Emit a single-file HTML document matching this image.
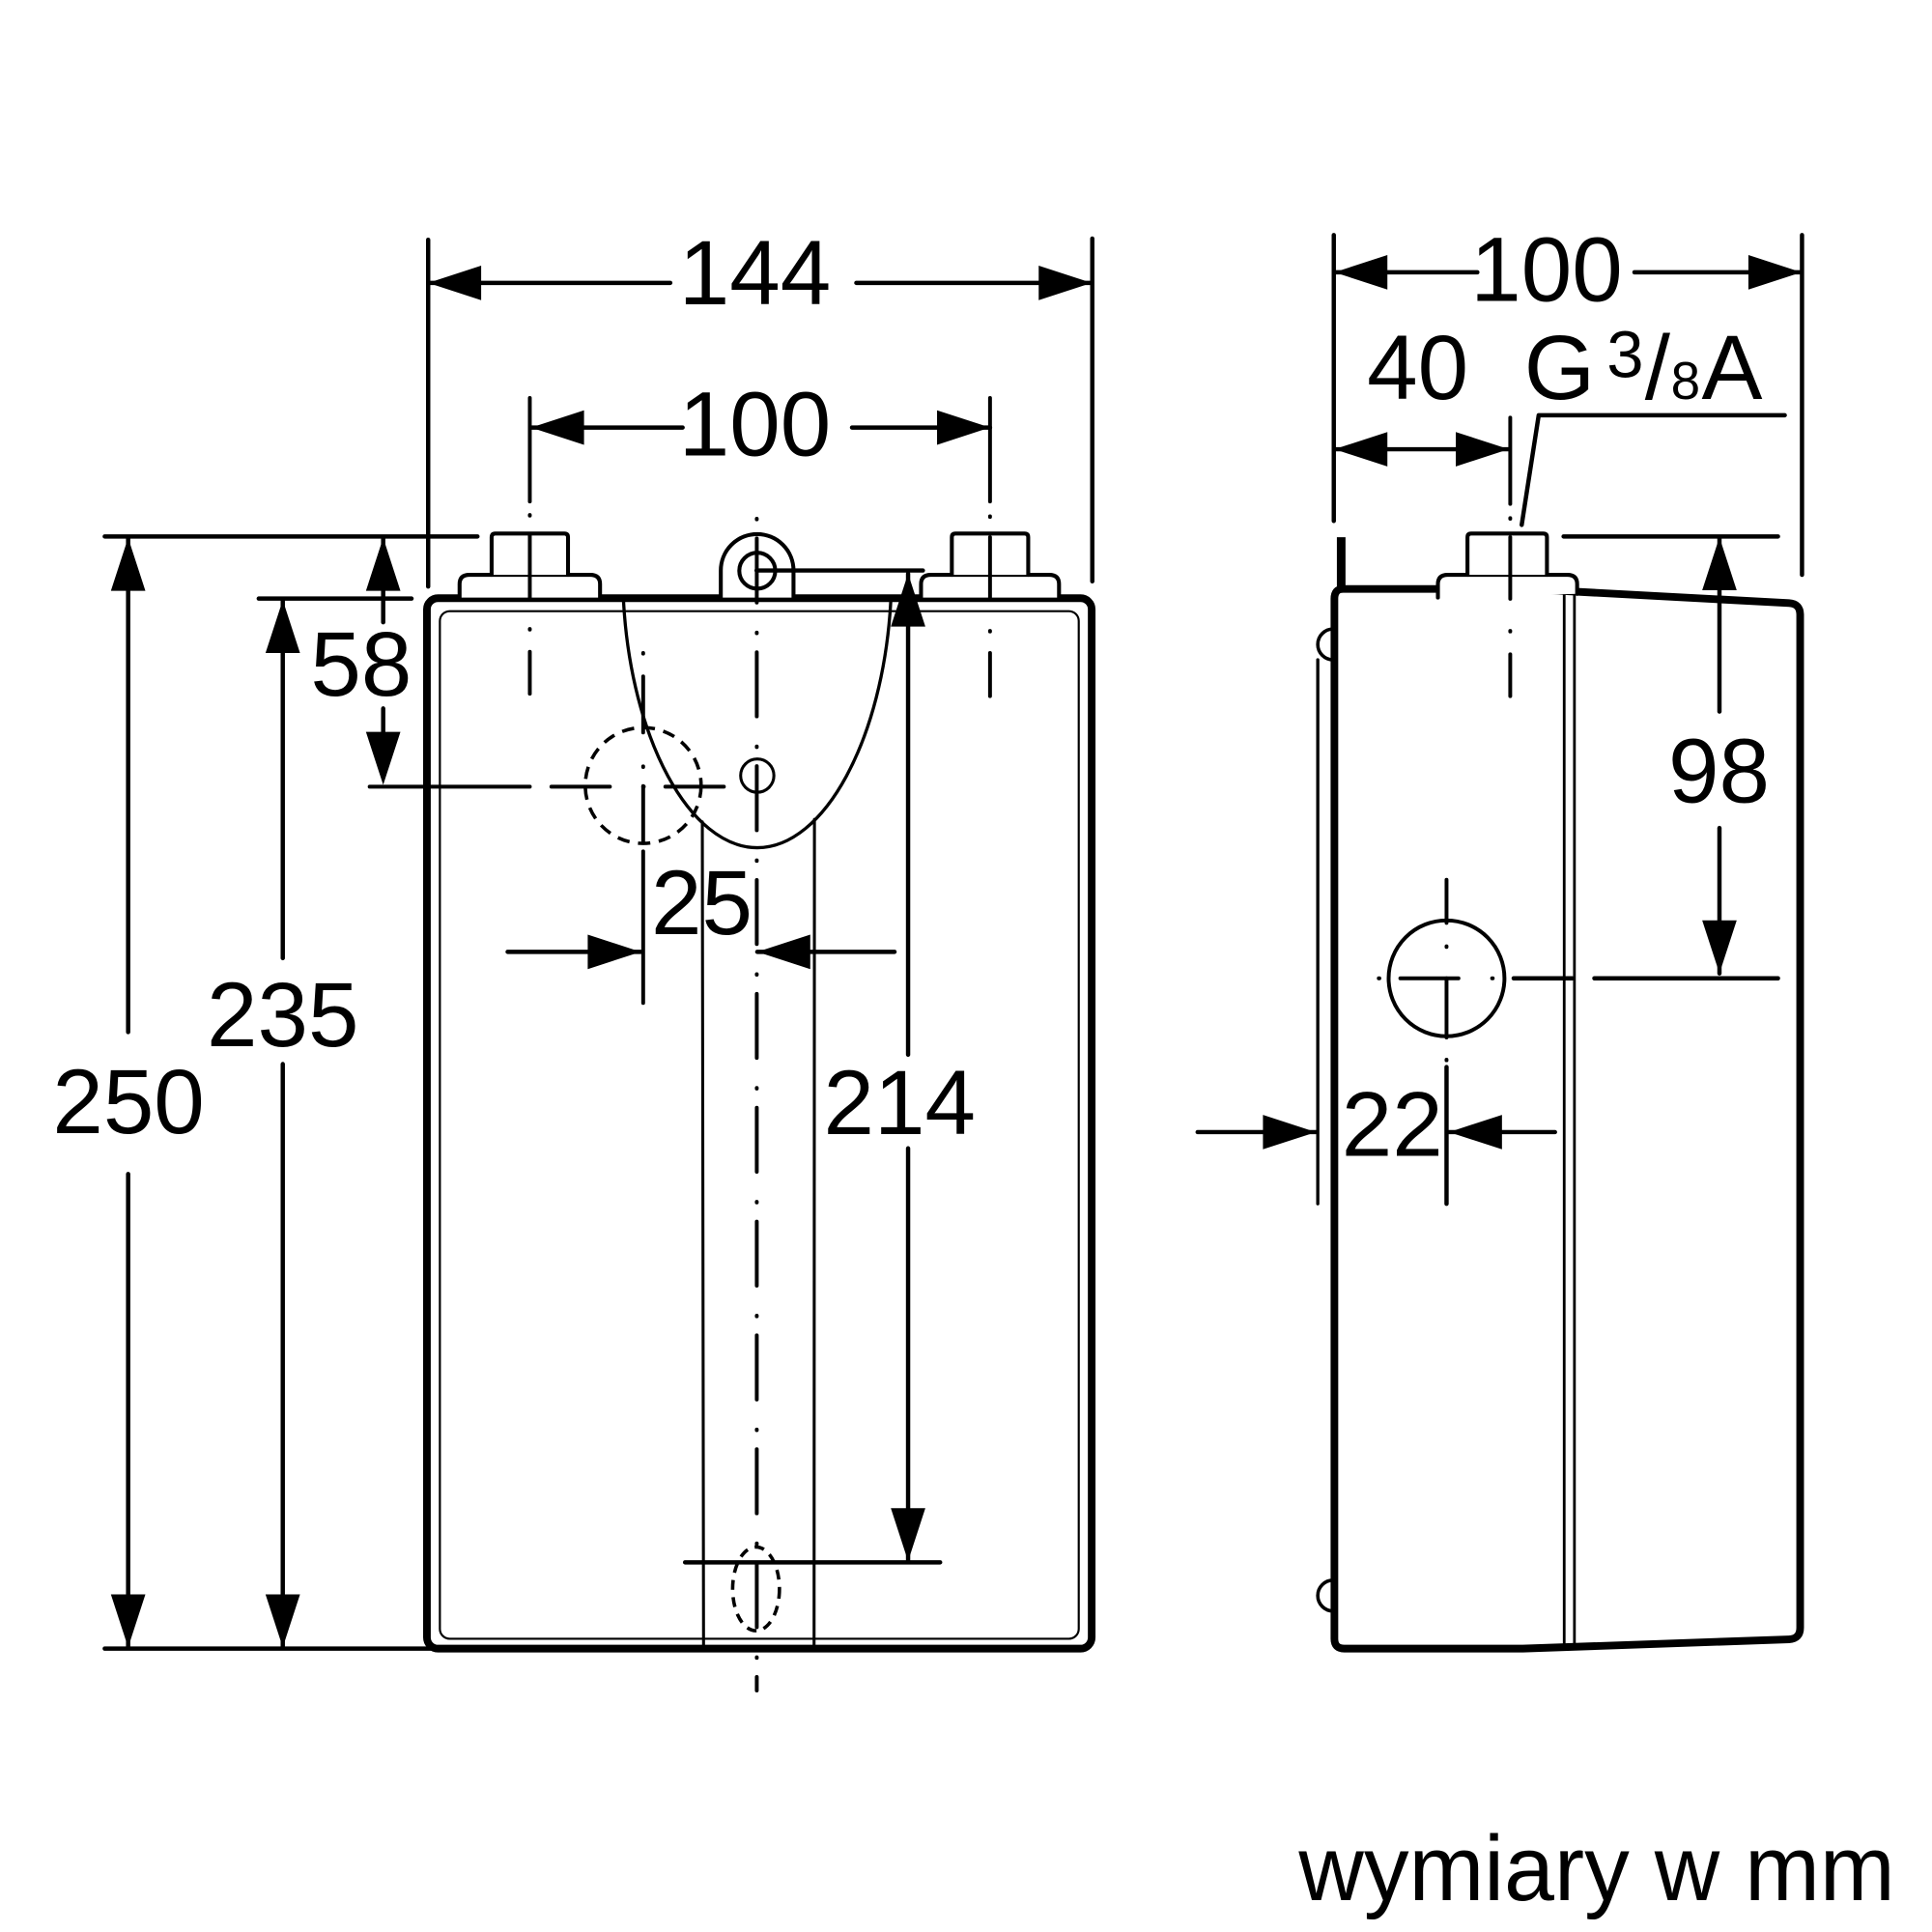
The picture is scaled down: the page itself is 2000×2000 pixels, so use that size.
<!DOCTYPE html>
<html><head><meta charset="utf-8"><style>
html,body{margin:0;padding:0;background:#fff}
svg{display:block}
text{font-family:"Liberation Sans",Arial,sans-serif;fill:#000}
</style></head><body>
<svg xmlns="http://www.w3.org/2000/svg" width="2000" height="2000" viewBox="0 0 1568 1568">
<rect x="0" y="0" width="1568" height="1568" fill="#fff"/>

<!-- ===== FRONT VIEW ===== -->
<g fill="none" stroke="#000" stroke-linecap="round" stroke-linejoin="round">
  <!-- tank -->
  <rect x="346.5" y="485.5" width="539.5" height="852.5" rx="9" stroke-width="6.2"/>
  <rect x="357" y="496" width="518.5" height="834" rx="8" stroke-width="1.7"/>
  <!-- connectors -->
  <g stroke-width="3.2" fill="#fff">
    <path d="M373,485 V474 Q373,466.5 381,466.5 H479 Q487,466.5 487,474 V485"/>
    <path d="M399,466.5 V436 Q399,433 402,433 H458 Q461,433 461,436 V466.5"/>
    <path d="M747.5,485 V474 Q747.5,466.5 755.5,466.5 H851.5 Q859.5,466.5 859.5,474 V485"/>
    <path d="M772.5,466.5 V436 Q772.5,433 775.5,433 H831.5 Q834.5,433 834.5,436 V466.5"/>
    <!-- lug -->
    <path d="M585,485 V463 A29.5,29.5 0 0 1 644,463 V485"/>
  </g>
  <circle cx="614.6" cy="463.2" r="14.6" stroke-width="3.2"/>
  <!-- parabola -->
  <path d="M506,487 C512,600 560,688 614.6,688 C669,688 717,600 723,487" stroke-width="2.6"/>
  <!-- thin verticals -->
  <line x1="570" y1="667" x2="571" y2="1337" stroke-width="2.4"/>
  <line x1="661" y1="665" x2="660.7" y2="1337" stroke-width="2.4"/>
  <!-- dashed circle -->
  <circle cx="522" cy="637.5" r="47" stroke-width="2.8" stroke-dasharray="10 7" stroke-linecap="butt"/>
  <!-- keyhole -->
  <circle cx="614.6" cy="629.5" r="13.5" stroke-width="2.4"/>
  <!-- drain -->
  <ellipse cx="613.6" cy="1289.5" rx="19" ry="34" stroke-width="2.8" stroke-dasharray="8 6" stroke-linecap="butt"/>

  <!-- center line -->
  <line x1="614.2" y1="421" x2="614.2" y2="1372" stroke-width="3.1" stroke-dasharray="0.5 15.5 52 24.4"/>
  <!-- connector center lines -->
  <g stroke-width="3.1">
    <line x1="430" y1="323" x2="430" y2="407"/>
    <line x1="430" y1="418" x2="430" y2="418.5"/>
    <line x1="430" y1="434" x2="430" y2="485"/>
    <line x1="430" y1="510.5" x2="430" y2="511"/>
    <line x1="430" y1="529" x2="430" y2="563"/>
    <line x1="803.5" y1="323" x2="803.5" y2="407"/>
    <line x1="803.5" y1="419" x2="803.5" y2="419.5"/>
    <line x1="803.5" y1="436" x2="803.5" y2="485"/>
    <line x1="803.5" y1="512" x2="803.5" y2="512.5"/>
    <line x1="803.5" y1="530" x2="803.5" y2="565"/>
  </g>
  <!-- circle center lines -->
  <g stroke-width="3.1">
    <line x1="300" y1="638.5" x2="430" y2="638.5"/>
    <line x1="447.5" y1="638.5" x2="495" y2="638.5"/>
    <line x1="522" y1="638.5" x2="522.5" y2="638.5"/>
    <line x1="540" y1="638.5" x2="587.5" y2="638.5"/>
    <line x1="522" y1="530" x2="522" y2="530.5"/>
    <line x1="522" y1="549" x2="522" y2="594.5"/>
    <line x1="522" y1="622" x2="522" y2="622.5"/>
    <line x1="522" y1="638" x2="522" y2="683"/>
    <line x1="522" y1="691" x2="522" y2="814"/>
  </g>

  <!-- dimension & extension lines -->
  <g stroke-width="3.5">
    <!-- 144 -->
    <line x1="347.5" y1="194.6" x2="347.5" y2="476"/>
    <line x1="886.5" y1="193.6" x2="886.5" y2="471.8"/>
    <line x1="347.5" y1="229.6" x2="544" y2="229.6"/>
    <line x1="695" y1="229.6" x2="886" y2="229.6"/>
    <!-- 100 front -->
    <line x1="431" y1="347" x2="554" y2="347"/>
    <line x1="691.5" y1="347" x2="803.5" y2="347"/>
    <!-- horizontals -->
    <line x1="85" y1="435.4" x2="387.5" y2="435.4"/>
    <line x1="210" y1="485.8" x2="334" y2="485.8"/>
    <line x1="85" y1="1338" x2="350" y2="1338"/>
    <line x1="614" y1="463" x2="749" y2="463"/>
    <line x1="556" y1="1268" x2="763" y2="1268"/>
    <!-- 250 -->
    <line x1="104" y1="436.5" x2="104" y2="837.6"/>
    <line x1="104" y1="952.8" x2="104" y2="1337"/>
    <!-- 235 -->
    <line x1="229.5" y1="487" x2="229.5" y2="777.6"/>
    <line x1="229.5" y1="863.6" x2="229.5" y2="1337"/>
    <!-- 58 -->
    <line x1="311" y1="436.5" x2="311" y2="505"/>
    <line x1="311" y1="575" x2="311" y2="600"/>
    <!-- 25 -->
    <line x1="412" y1="772.5" x2="520" y2="772.5"/>
    <line x1="614.6" y1="772.5" x2="726" y2="772.5"/>
    <!-- 214 -->
    <line x1="737" y1="465.5" x2="737" y2="856"/>
    <line x1="737" y1="932" x2="737" y2="1267"/>
  </g>
</g>

<!-- arrowheads front -->
<g fill="#000" stroke="none">
  <polygon points="347.5,229.6 390.5,215.6 390.5,243.6"/>
  <polygon points="886,229.6 843,215.6 843,243.6"/>
  <polygon points="431,347 474,333 474,361"/>
  <polygon points="803.5,347 760.5,333 760.5,361"/>
  <polygon points="104,436.5 90,479.5 118,479.5"/>
  <polygon points="104,1337 90,1294 118,1294"/>
  <polygon points="229.5,487 215.5,530 243.5,530"/>
  <polygon points="229.5,1337 215.5,1294 243.5,1294"/>
  <polygon points="311,436.5 297,479.5 325,479.5"/>
  <polygon points="311,637 297,594 325,594"/>
  <polygon points="520,772.5 477,758.5 477,786.5"/>
  <polygon points="614.6,772.5 657.6,758.5 657.6,786.5"/>
  <polygon points="737,465.5 723,508.5 751,508.5"/>
  <polygon points="737,1267 723,1224 751,1224"/>
</g>

<!-- ===== SIDE VIEW ===== -->
<g fill="none" stroke="#000" stroke-linecap="round" stroke-linejoin="round">
  <line x1="1088.5" y1="436" x2="1088.5" y2="478" stroke-width="7" stroke-linecap="butt"/>
  <path d="M1088.5,478 H1238 L1452,489.5 Q1461,490 1461,499 V1321 Q1461,1330 1452,1330.5 L1236,1338 H1091 Q1083,1338 1083,1330 V486 Q1083,478 1090,478" stroke-width="6.2"/>
  <line x1="1269.5" y1="480" x2="1269.5" y2="1337" stroke-width="2.2"/>
  <line x1="1277.8" y1="480" x2="1277.8" y2="1337" stroke-width="2.2"/>
  <g stroke-width="3.2" fill="#fff">
    <path d="M1167,485 V474 Q1167,466.5 1175,466.5 H1272 Q1280,466.5 1280,474 V482"/>
    <path d="M1191,466.5 V436 Q1191,433 1194,433 H1252.5 Q1255.5,433 1255.5,436 V466.5"/>
  </g>
  <path d="M1082,510.5 A12.5,12.5 0 0 0 1082,535.5" stroke-width="2.8"/>
  <path d="M1082,1282.5 A12.5,12.5 0 0 0 1082,1307.5" stroke-width="2.8"/>
  <circle cx="1174" cy="794" r="47" stroke-width="3.1"/>

  <g stroke-width="3.1">
    <!-- connector center line -->
    <line x1="1225.7" y1="339" x2="1225.7" y2="409"/>
    <line x1="1225.7" y1="420.5" x2="1225.7" y2="421"/>
    <line x1="1225.7" y1="436" x2="1225.7" y2="486"/>
    <line x1="1225.7" y1="512" x2="1225.7" y2="512.5"/>
    <line x1="1225.7" y1="531" x2="1225.7" y2="565"/>
    <!-- circle crosshair -->
    <line x1="1136.5" y1="794" x2="1183.7" y2="794"/>
    <line x1="1174" y1="794" x2="1174" y2="842"/>
    <line x1="1174" y1="714" x2="1174" y2="749"/>
    <line x1="1119" y1="794" x2="1119.5" y2="794"/>
    <line x1="1211" y1="794" x2="1211.5" y2="794"/>
    <line x1="1174" y1="768" x2="1174" y2="768.5"/>
    <line x1="1174" y1="860" x2="1174" y2="860.5"/>
  </g>

  <g stroke-width="3.5">
    <!-- 100 side -->
    <line x1="1082.5" y1="190.8" x2="1082.5" y2="422.8"/>
    <line x1="1462.5" y1="190.8" x2="1462.5" y2="466.5"/>
    <line x1="1083" y1="221" x2="1199" y2="221"/>
    <line x1="1326.5" y1="221" x2="1462" y2="221"/>
    <!-- 40 -->
    <line x1="1083" y1="364.6" x2="1224.5" y2="364.6"/>
    <!-- leader -->
    <polyline points="1235,426 1248.8,337 1448.5,337"/>
    <!-- 98 -->
    <line x1="1269" y1="435.4" x2="1443" y2="435.4"/>
    <line x1="1228.5" y1="794" x2="1276" y2="794"/>
    <line x1="1294" y1="794" x2="1443" y2="794"/>
    <line x1="1395.5" y1="436" x2="1395.5" y2="577.5"/>
    <line x1="1395.5" y1="672" x2="1395.5" y2="790"/>
    <!-- 22 -->
    <line x1="1174" y1="866" x2="1174" y2="977"/>
    <line x1="972" y1="918.8" x2="1068" y2="918.8"/>
    <line x1="1176" y1="918.8" x2="1262" y2="918.8"/>
  </g>
  <line x1="1069.5" y1="535.5" x2="1069.5" y2="977" stroke-width="2.6"/>
</g>

<!-- arrowheads side -->
<g fill="#000" stroke="none">
  <polygon points="1083,221 1126,207 1126,235"/>
  <polygon points="1462,221 1419,207 1419,235"/>
  <polygon points="1083,364.6 1126,350.6 1126,378.6"/>
  <polygon points="1224.5,364.6 1181.5,350.6 1181.5,378.6"/>
  <polygon points="1395.5,436 1381.5,479 1409.5,479"/>
  <polygon points="1395.5,790 1381.5,747 1409.5,747"/>
  <polygon points="1068,918.8 1025,904.8 1025,932.8"/>
  <polygon points="1176,918.8 1219,904.8 1219,932.8"/>
</g>

<!-- ===== TEXT ===== -->
<g font-size="74">
  <text x="551" y="247">144</text>
  <text x="551" y="369.6">100</text>
  <text x="1193.5" y="244.3">100</text>
  <text x="1109.5" y="324">40</text>
  <text x="252" y="564.5">58</text>
  <text x="528.4" y="758">25</text>
  <text x="167.8" y="849">235</text>
  <text x="42.6" y="919.6">250</text>
  <text x="668.4" y="920.5">214</text>
  <text x="1354" y="651">98</text>
  <text x="1088.8" y="938">22</text>
  <text x="1237" y="324">G</text>
  <text x="1304" y="306" font-size="54">3</text>
  <text x="1335" y="324">/</text>
  <text x="1356" y="324" font-size="43">8</text>
  <text x="1381" y="324">A</text>
</g>
<text x="1054" y="1542" font-size="75" textLength="484" lengthAdjust="spacingAndGlyphs">wymiary w mm</text>
</svg>
</body></html>
